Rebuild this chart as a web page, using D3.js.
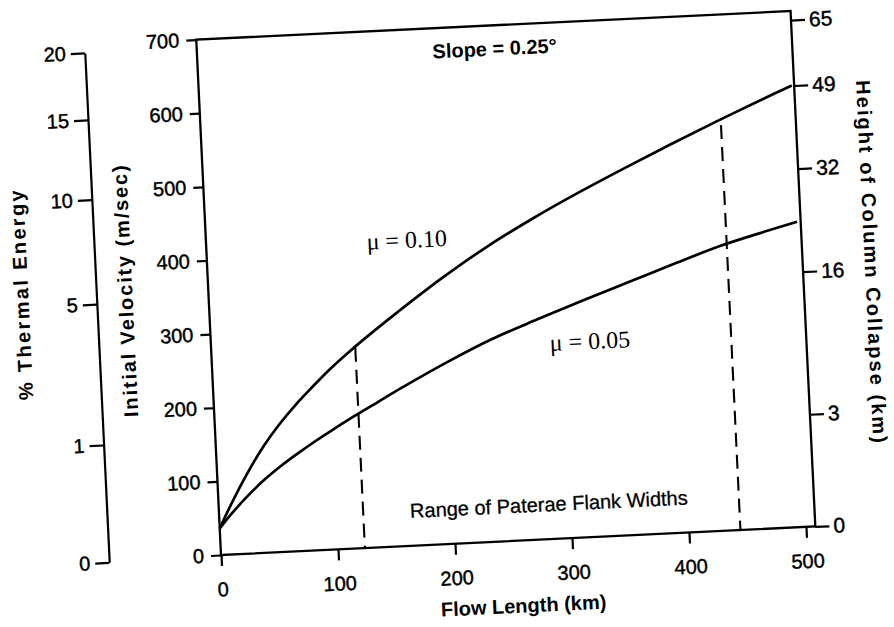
<!DOCTYPE html>
<html><head><meta charset="utf-8">
<script src="https://cdn.jsdelivr.net/npm/d3@7"></script>
<style>html,body{margin:0;padding:0;background:#fff;} svg{display:block;}</style>
</head><body>
<svg id="chart" width="894" height="627"></svg>
<script>
// ---- data ----
const flowLength10 = [0,10,25,40,55,70,85,100,120,140,160,200,240,280,320,360,400,440,480,506];
const velocityMu10 = [36,66,107,143,173,199,222,244,270,294,317,361,401,436,468,498,527,555,582,599];
const flowLength05 = [0,10,25,40,55,70,85,100,120,140,160,200,240,280,320,360,400,440,480,505];
const velocityMu05 = [36,54,78,99,117,133,148,162,180,197,214,246,275,299,322,344,366,387,404,414];
const flowTicks = [0,100,200,300,400,500];
const velocityTicks = [0,100,200,300,400,500,600,700];
const thermalTicks = [0,1,5,10,15,20];
const heightTicks = [0,3,16,32,49,65];
const flankWidthX = [123,444];      // km, dashed lines
const flankWidthTop = [272,550];    // m/s, top of dashed lines
const seriesLabels = ["\u03bc = 0.10","\u03bc = 0.05"];
const slopeLabel = "Slope = 0.25\u00b0";
const rangeLabel = "Range of Paterae Flank Widths";
const xTitle = "Flow Length (km)";
const yTitle = "Initial Velocity (m/sec)";
const thermalTitle = "% Thermal Energy";
const heightTitle = "Height of Column Collapse (km)";

// ---- layout ----
const W = 595, H = 516;
const svg = d3.select("#chart");
const SANS = "'Liberation Sans', Arial, Helvetica, sans-serif";
const SERIF = "'Liberation Serif', 'Times New Roman', serif";
const g = svg.append("g")
  .attr("transform", "translate(221,555) rotate(-2.75) translate(0,-516)");

const x = d3.scaleLinear().domain([0,508]).range([0,W]);
const y = d3.scaleLinear().domain([0,700]).range([H,0]);
const thermal = d3.scalePow().exponent(0.49).domain([0,20]).range([H+2, H-508]);
const height = d3.scalePow().exponent(0.49).domain([0,65]).range([H, H-507]);

function styleAxis(sel, fs){
  sel.selectAll("line").attr("stroke","#000").attr("stroke-width",2.2);
  sel.selectAll("path.domain").attr("stroke","#000").attr("stroke-width",2.2);
  sel.selectAll("text").attr("font-family",SANS).attr("font-size",fs).attr("fill","#000")
    .attr("stroke","#000").attr("stroke-width",0.45);
}

// x axis
g.append("g").attr("transform",`translate(0,${H})`)
  .call(d3.axisBottom(x).tickValues(flowTicks).tickSize(11).tickPadding(16).tickFormat(d3.format("d")))
  .call(a=>a.select(".domain").remove())
  .call(a=>styleAxis(a,20));

// velocity axis
g.append("g")
  .call(d3.axisLeft(y).tickValues(velocityTicks).tickSize(10).tickPadding(7).tickFormat(d3.format("d")))
  .call(a=>a.select(".domain").remove())
  .call(a=>styleAxis(a,20));

// thermal axis
g.append("g").attr("transform","translate(-112,0)")
  .call(d3.axisLeft(thermal).tickValues(thermalTicks).tickSize(14).tickSizeOuter(0).tickPadding(5).tickFormat(d3.format("d")))
  .call(a=>styleAxis(a,20));

// height axis
g.append("g").attr("transform",`translate(${W},0)`)
  .call(d3.axisRight(height).tickValues(heightTicks).tickSize(14).tickPadding(4).tickFormat(d3.format("d")))
  .call(a=>a.select(".domain").remove())
  .call(a=>styleAxis(a,21));

// frame
g.append("rect").attr("x",0).attr("y",0).attr("width",W).attr("height",H)
  .attr("fill","none").attr("stroke","#000").attr("stroke-width",2.3);

// curves
const line = d3.line().x(d=>x(d[0])).y(d=>y(d[1])).curve(d3.curveCatmullRom.alpha(0.5));
const s10 = flowLength10.map((v,i)=>[v,velocityMu10[i]]);
const s05 = flowLength05.map((v,i)=>[v,velocityMu05[i]]);
[s10,s05].forEach(s=>{
  g.append("path").datum(s).attr("d",line)
    .attr("fill","none").attr("stroke","#000").attr("stroke-width",2.7);
});

// dashed flank-width lines
flankWidthX.forEach((fx,i)=>{
  g.append("line")
    .attr("x1",x(fx)).attr("x2",x(fx))
    .attr("y1",y(flankWidthTop[i])).attr("y2",y(0))
    .attr("stroke","#000").attr("stroke-width",2.1).attr("stroke-dasharray","14,8");
});

// labels
g.append("text").attr("x",x(201)).attr("y",y(659)).text(slopeLabel)
  .attr("font-family",SANS).attr("font-weight","bold").attr("font-size",20);
g.append("text").attr("x",x(137)).attr("y",y(404)).text(seriesLabels[0])
  .attr("font-family",SERIF).attr("font-size",24);
g.append("text").attr("x",x(289)).attr("y",y(255)).text(seriesLabels[1])
  .attr("font-family",SERIF).attr("font-size",24);
g.append("text").attr("x",x(163)).attr("y",y(38)).text(rangeLabel)
  .attr("font-family",SANS).attr("font-size",20).attr("stroke","#000").attr("stroke-width",0.3);

g.append("text").attr("x",x(256)).attr("y",H+72).attr("text-anchor","middle").text(xTitle)
  .attr("font-family",SANS).attr("font-weight","bold").attr("font-size",20);

g.append("text").attr("transform","translate(-76,248) rotate(-90)")
  .attr("text-anchor","middle").text(yTitle)
  .attr("font-family",SANS).attr("font-weight","bold").attr("font-size",20)
  .attr("textLength",252).attr("lengthAdjust","spacing");
g.append("text").attr("transform","translate(-180,247) rotate(-90)")
  .attr("text-anchor","middle").text(thermalTitle)
  .attr("font-family",SANS).attr("font-weight","bold").attr("font-size",20)
  .attr("textLength",210).attr("lengthAdjust","spacing");
g.append("text").attr("transform","translate(657,254) rotate(90)")
  .attr("text-anchor","middle").text(heightTitle)
  .attr("font-family",SANS).attr("font-weight","bold").attr("font-size",20)
  .attr("textLength",363).attr("lengthAdjust","spacing");
</script>
</body></html>
